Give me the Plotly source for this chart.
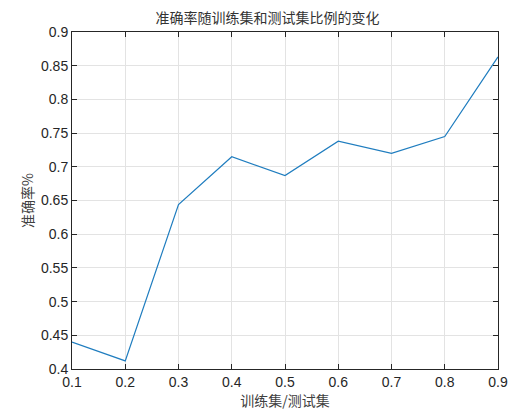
import plotly.graph_objects as go

ratio = [0.1, 0.2, 0.3, 0.4, 0.5, 0.6, 0.7, 0.8, 0.9]
accuracy = [0.440, 0.412, 0.644, 0.715, 0.687, 0.738, 0.720, 0.745, 0.863]

x_ticks = [0.1, 0.2, 0.3, 0.4, 0.5, 0.6, 0.7, 0.8, 0.9]
y_ticks = [0.4, 0.45, 0.5, 0.55, 0.6, 0.65, 0.7, 0.75, 0.8, 0.85, 0.9]

cjk = "Noto Sans CJK SC"
num = "Liberation Sans, Arial"

fig = go.Figure(go.Scatter(x=ratio, y=accuracy, mode='lines',
                           line=dict(color='#1f7dbf', width=1.2)))

axis = dict(showline=True, linecolor='#262626', linewidth=1, mirror='ticks',
            ticks='inside', ticklen=5, tickcolor='#262626',
            showgrid=True, gridcolor='#e3e3e3', gridwidth=1, zeroline=False,
            tickfont=dict(family=num, size=14, color='#262626'))

# page body has an 8px margin, so the figure is drawn 8px smaller and shifted
fig.update_layout(
    width=519, height=408,
    margin=dict(l=64, r=29, t=24, b=47),
    paper_bgcolor='white', plot_bgcolor='white',
    showlegend=False,
    title=dict(text='准确率随训练集和测试集比例的变化', x=0.5, xanchor='center',
               y=1 - 10/408, yanchor='middle',
               font=dict(family=cjk, size=14, color='#333333')),
    xaxis=dict(axis, range=[0.1, 0.9], tickvals=x_ticks,
               ticktext=[str(v) for v in x_ticks],
               title=dict(text='训练集/测试集', standoff=1,
                          font=dict(family=cjk, size=14, color='#404040'))),
    yaxis=dict(axis, range=[0.4, 0.9], tickvals=y_ticks,
               ticktext=[('%g' % v) for v in y_ticks],
               title=dict(text='准确率%', standoff=4,
                          font=dict(family=cjk, size=14, color='#404040'))),
)

fig.write_html("out.html")
